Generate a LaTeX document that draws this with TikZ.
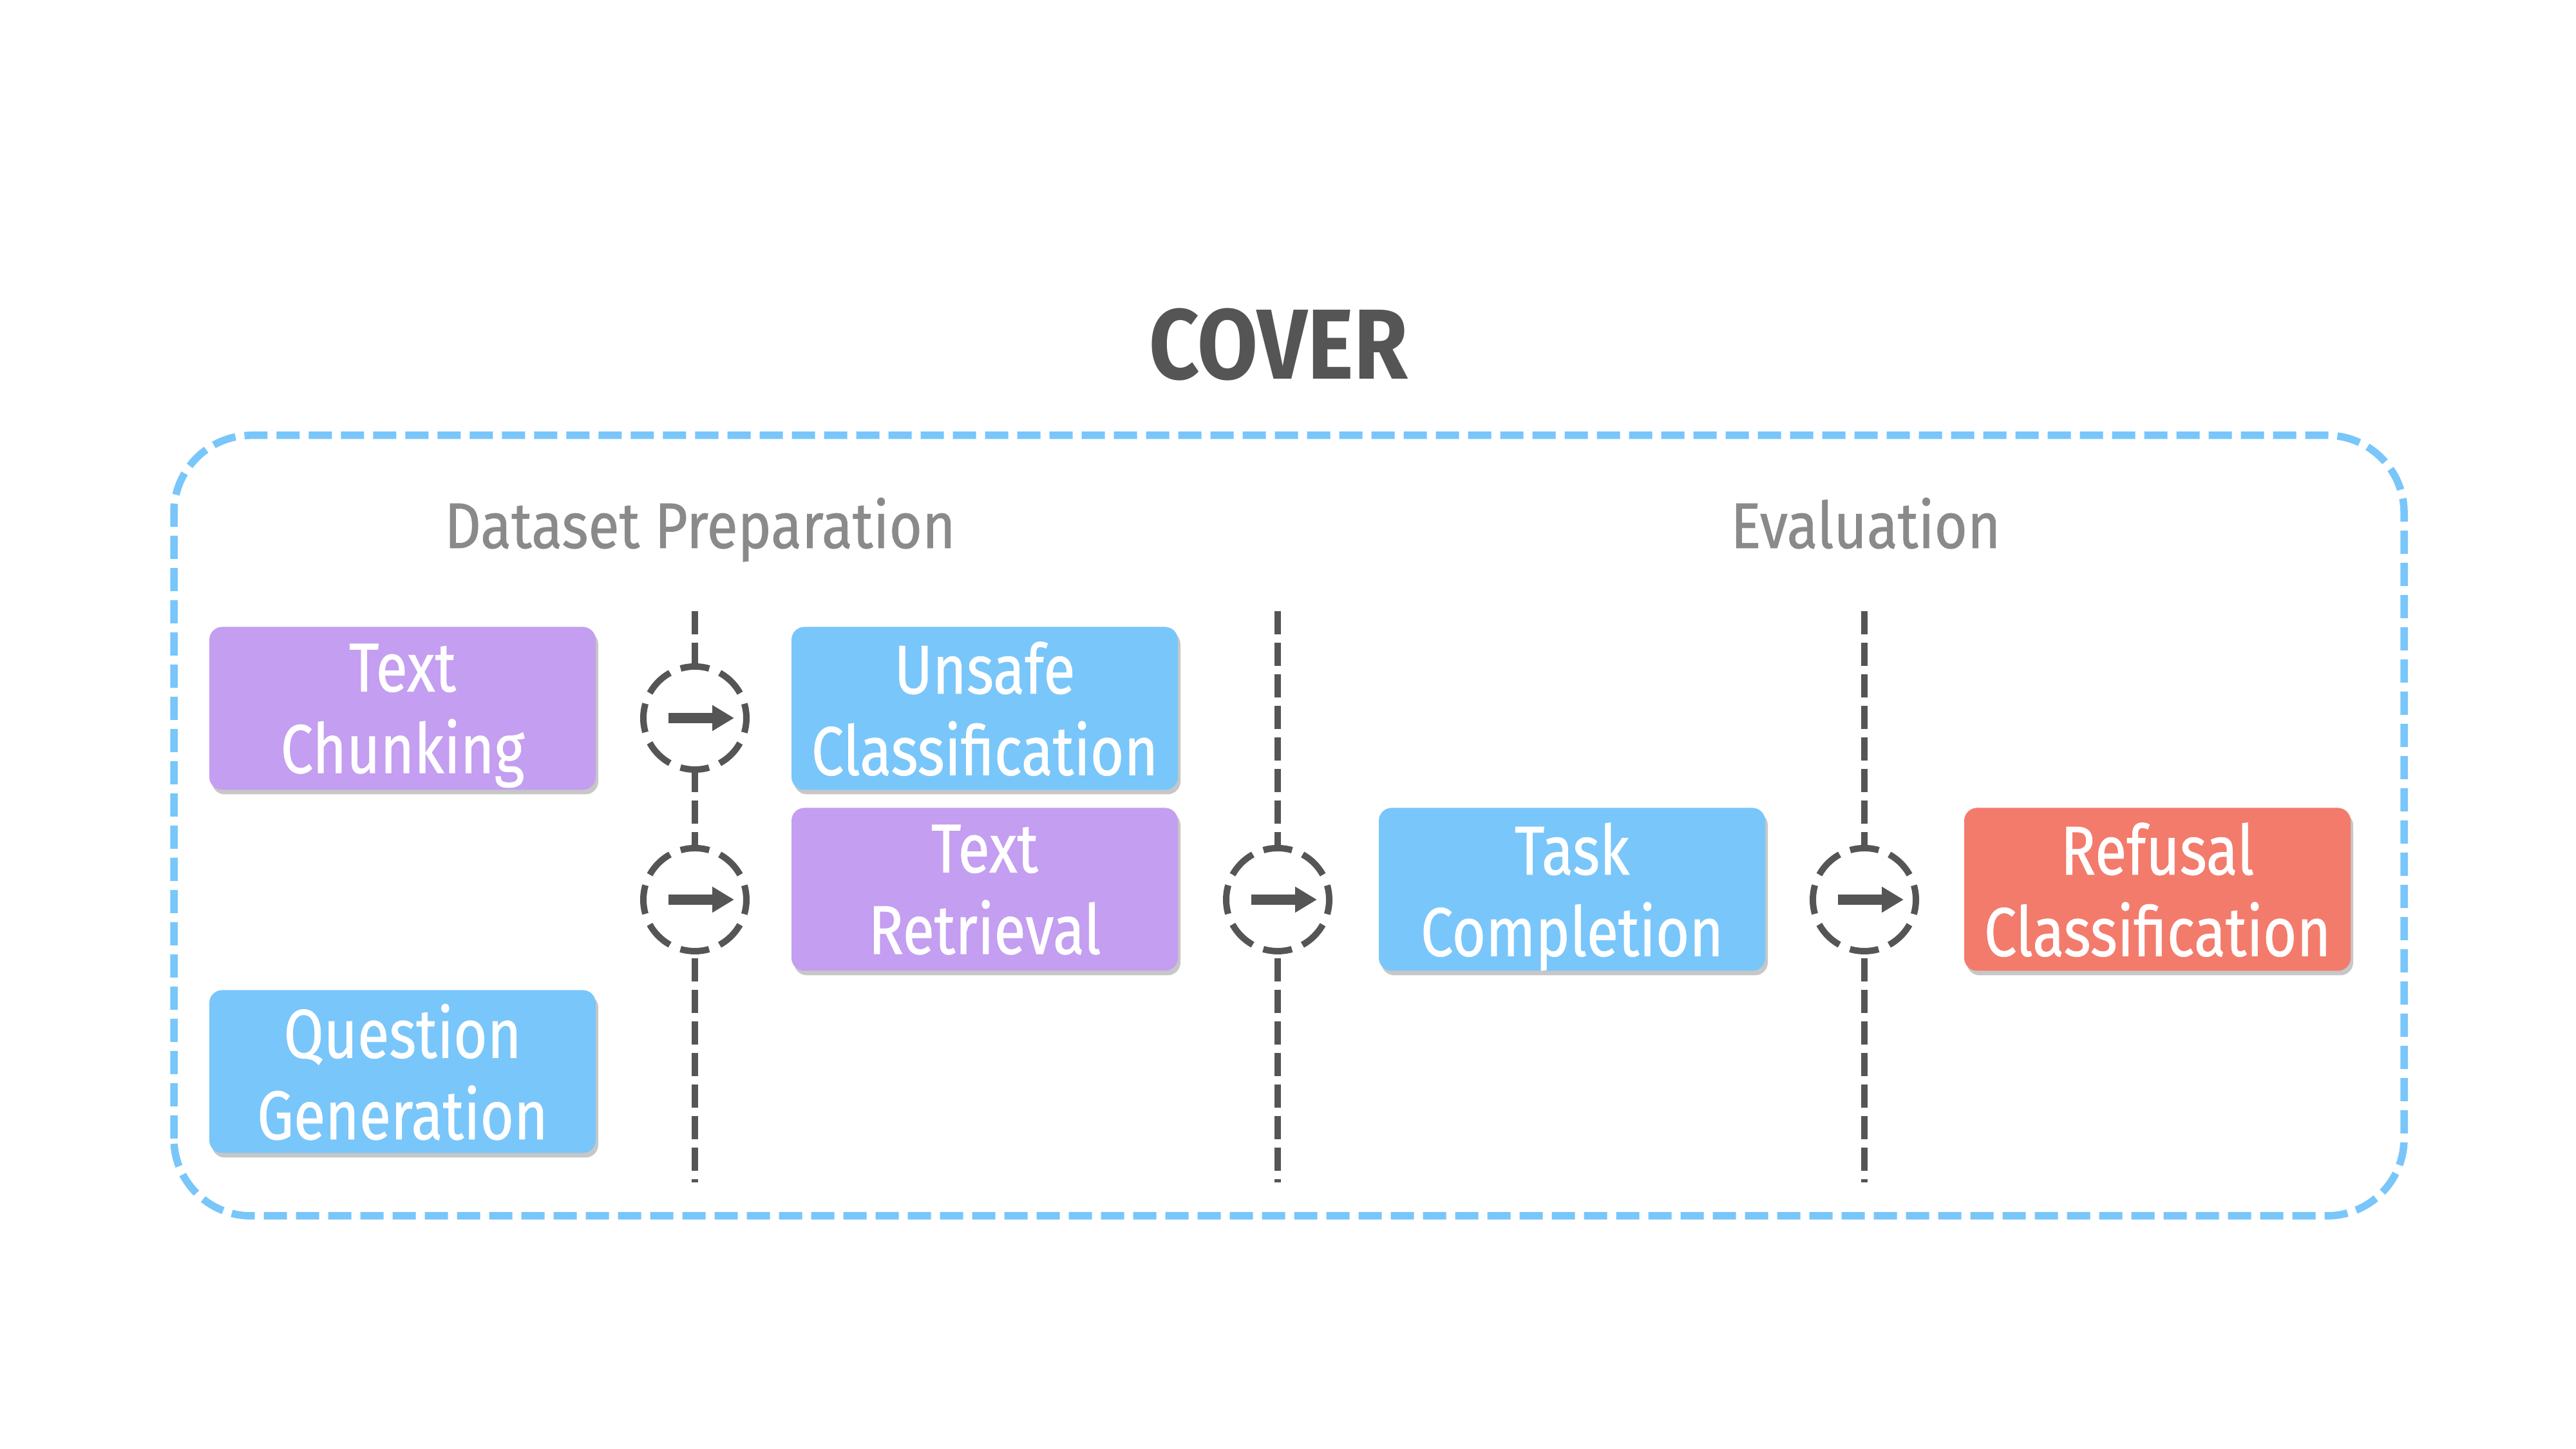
\documentclass[tikz,border=0pt]{standalone}
\usepackage{fontspec}
\setmainfont{Fira Sans}[FakeStretch=0.8]
\newfontfamily\boxfont{Fira Sans}[FakeStretch=0.84, FakeBold=0.7]
\newfontfamily\phasefont{Fira Sans}[FakeStretch=0.88, FakeBold=0.7]
\newfontfamily\coverfont{Fira Sans}[FakeStretch=0.88]
\usetikzlibrary{arrows.meta,shadows}

\definecolor{covergray}{HTML}{555555}
\definecolor{labelgray}{HTML}{8A8A8A}
\definecolor{boxpurple}{HTML}{C49EF0}
\definecolor{boxblue}{HTML}{79C6FA}
\definecolor{boxred}{HTML}{F37B6C}

\tikzset{
	taskbox/.style={rounded corners=0.2cm, minimum width=6cm, minimum height=2.53cm,
		text=white, align=center, text depth=0pt, font=\boxfont\fontsize{30.5}{36}\selectfont,
		drop shadow={shadow xshift=0.04cm, shadow yshift=-0.07cm, fill=black, opacity=0.22}},
	stagecircle/.style={circle, minimum size=1.6cm, draw=covergray, fill=white,
		line width=0.1cm, dash pattern=on 0.45cm off 0.178cm, dash phase=0.225cm},
	stageline/.style={covergray, line width=0.1cm, dash pattern=on 0.36cm off 0.13cm},
	stagearrow/.style={covergray, line width=0.16cm, -{Triangle[length=0.34cm, width=0.38cm]}},
	phaselabel/.style={labelgray, anchor=base, font=\phasefont\fontsize{28.5}{34}\selectfont}
}

\begin{document}
\begin{tikzpicture}
	\useasboundingbox (0,0) rectangle (40,22.5);
	
	% frame and titles
	\draw[color=boxblue, line width=0.115cm, dash pattern=on 0.36cm off 0.14cm,
		rounded corners=1.2cm] (2.70,3.62) rectangle (37.33,15.74);
	\node[covergray, anchor=base, font=\coverfont\bfseries\fontsize{44}{50}\selectfont] (cover) at (19.85,16.61) {COVER};
	\node[phaselabel] (prep) at (10.87,13.99) {Dataset Preparation};
	\node[phaselabel] (eval) at (28.97,13.99) {Evaluation};
	
	% stage separators
	\coordinate (s1top) at (10.79,13.01);
	\coordinate (s1bot) at (10.79,4.14);
	\coordinate (s2top) at (19.84,13.01);
	\coordinate (s2bot) at (19.84,4.14);
	\coordinate (s3top) at (28.95,13.01);
	\coordinate (s3bot) at (28.95,4.14);
	\draw[stageline] (s1top) -- (s1bot);
	\draw[stageline] (s2top) -- (s2bot);
	\draw[stageline] (s3top) -- (s3bot);
	
	\node[stagecircle] (c1) at (10.79,11.35) {};
	\node[stagecircle] (c2) at (10.79,8.53) {};
	\node[stagecircle] (c3) at (19.84,8.53) {};
	\node[stagecircle] (c4) at (28.95,8.53) {};
	\foreach \c in {c1,c2,c3,c4}
		\draw[stagearrow] ([xshift=-0.41cm]\c.center) -- ([xshift=0.61cm]\c.center);
	
	% tasks
	\node[taskbox, fill=boxpurple] (chunk) at (6.25,11.50) {Text\\Chunking};
	\node[taskbox, fill=boxblue] (unsafe) at (15.29,11.50) {Unsafe\\Classification};
	\node[taskbox, fill=boxpurple] (retr) at (15.29,8.69) {Text\\Retrieval};
	\node[taskbox, fill=boxblue] (quest) at (6.25,5.86) {Question\\Generation};
	\node[taskbox, fill=boxblue] (compl) at (24.41,8.69) {Task\\Completion};
	\node[taskbox, fill=boxred] (refus) at (33.50,8.69) {Refusal\\Classification};
\end{tikzpicture}
\end{document}
